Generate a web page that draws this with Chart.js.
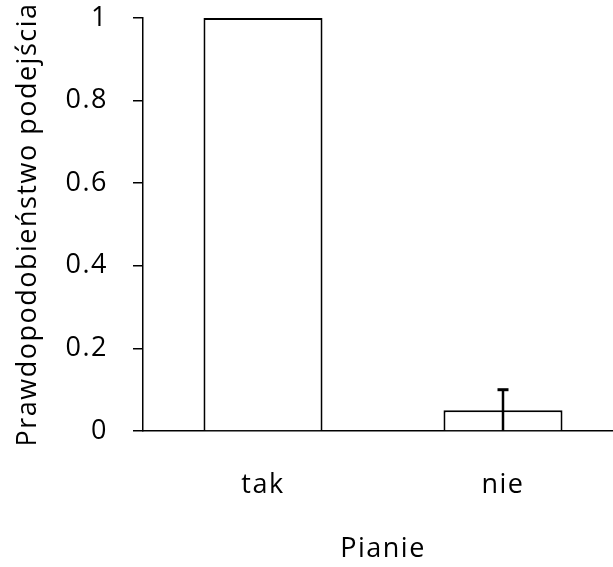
<!DOCTYPE html>
<html>
<head>
<meta charset="utf-8">
<script src="https://cdn.jsdelivr.net/npm/chart.js@4"></script>
<style>
  html, body { margin: 0; padding: 0; background: #fff; overflow: hidden; }
  #wrap { width: 613px; height: 567px; overflow: hidden; }
  canvas { display: block; }
</style>
</head>
<body>
<div id="wrap"><canvas id="c" width="640" height="567" style="width:640px;height:567px"></canvas></div>
<script>
const categories = ['tak', 'nie'];
const values = [1.0, 0.05];
const errors = [0, 0.05];
const yTicks = [0, 0.2, 0.4, 0.6, 0.8, 1];
const yTitle = 'Prawdopodobieństwo podejścia';
const xTitle = 'Pianie';

const FONT = 'Open Sans';
const FONT_SIZE = 27;
const SPACING = '1.5px';

// slightly open letter spacing for all chart text
const textSpacing = {
  id: 'textSpacing',
  beforeLayout(chart) { chart.ctx.letterSpacing = SPACING; },
  beforeDraw(chart) { chart.ctx.letterSpacing = SPACING; }
};

// symmetric error bars with a cap at the upper end
const errorBars = {
  id: 'errorBars',
  afterDatasetsDraw(chart) {
    const ctx = chart.ctx;
    const meta = chart.getDatasetMeta(0);
    const y = chart.scales.y;
    ctx.save();
    ctx.strokeStyle = '#000';
    meta.data.forEach((bar, i) => {
      const e = errors[i];
      if (!e) return;
      const x = bar.x;
      const yTop = y.getPixelForValue(values[i] + e);
      const yBot = y.getPixelForValue(Math.max(0, values[i] - e));
      ctx.lineWidth = 2.5;
      ctx.beginPath();
      ctx.moveTo(x, yBot);
      ctx.lineTo(x, yTop);
      ctx.stroke();
      ctx.lineWidth = 3;
      ctx.beginPath();
      ctx.moveTo(x - 5.5, yTop);
      ctx.lineTo(x + 5.5, yTop);
      ctx.stroke();
    });
    ctx.restore();
  }
};

const font = { family: FONT, size: FONT_SIZE };

new Chart(document.getElementById('c'), {
  type: 'bar',
  data: {
    labels: categories,
    datasets: [{
      data: values,
      backgroundColor: '#fff',
      borderColor: '#000',
      borderWidth: 2,
      categoryPercentage: 1,
      barPercentage: 0.496
    }]
  },
  options: {
    responsive: false,
    animation: false,
    layout: { padding: { top: 18, right: 17, bottom: 0, left: 0 } },
    plugins: { legend: { display: false }, tooltip: { enabled: false } },
    scales: {
      x: {
        grid: { display: false, drawTicks: false },
        border: { display: true, color: '#000', width: 1.5 },
        ticks: { color: '#000', font, padding: 38 },
        title: { display: true, text: xTitle, color: '#000', font, padding: { top: 1, bottom: 1 } },
        afterFit(s) { s.height = 136; s.paddingLeft = 0; s.paddingRight = 0; }
      },
      y: {
        min: 0, max: 1,
        afterBuildTicks(s) { s.ticks = yTicks.map(v => ({ value: v })); },
        grid: { display: true, drawOnChartArea: false, drawTicks: true, tickLength: 10, color: '#000', lineWidth: 1.5 },
        border: { display: true, color: '#000', width: 1.5 },
        ticks: { color: '#000', font, padding: 25, callback: (v) => String(v) },
        title: { display: true, text: yTitle, color: '#000', font, padding: { top: 12, bottom: 12 } },
        afterFit(s) { s.width = 143; s.paddingTop = 0; s.paddingBottom = 0; }
      }
    }
  },
  plugins: [textSpacing, errorBars]
});
</script>
</body>
</html>
